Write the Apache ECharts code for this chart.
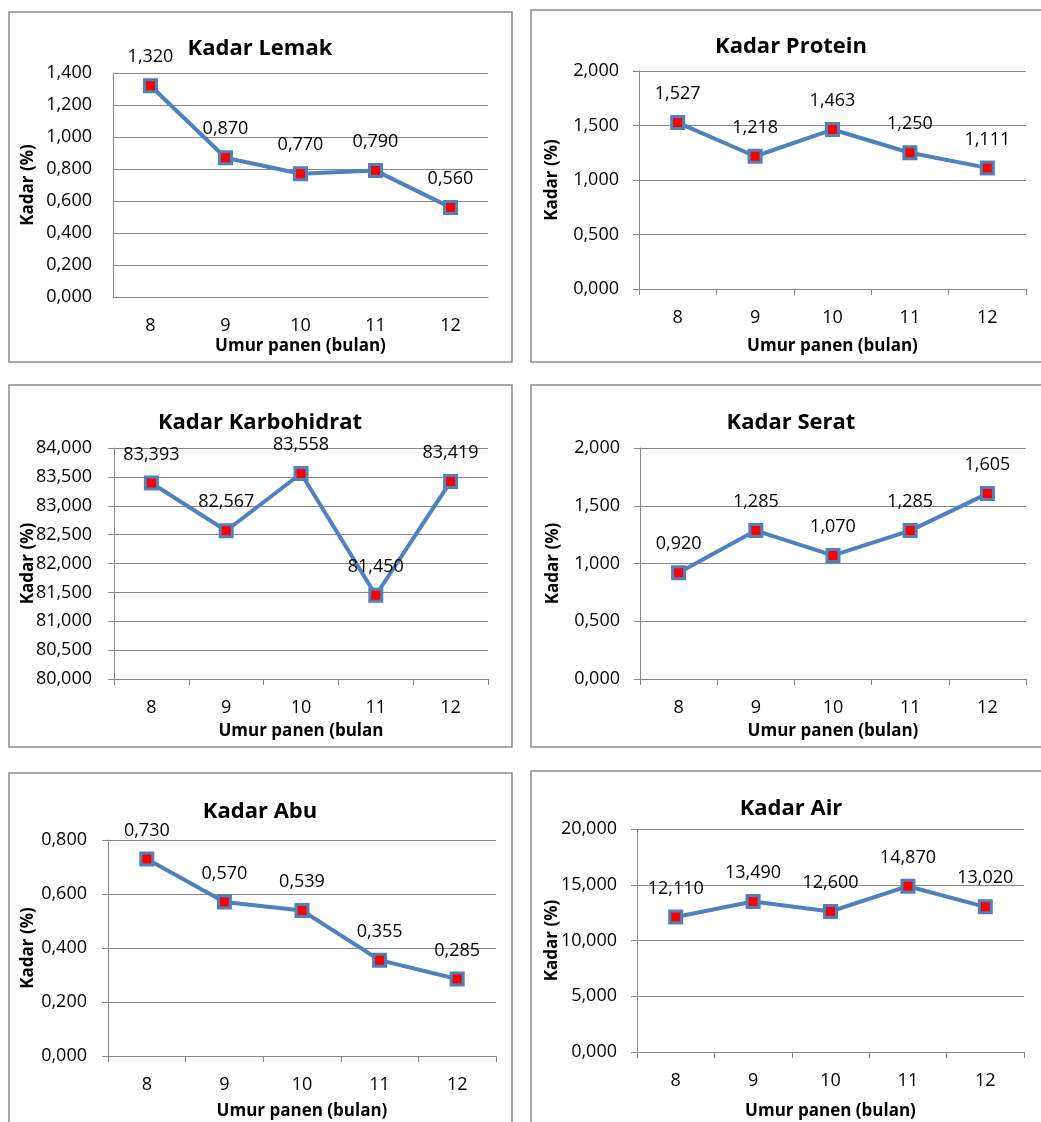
<!DOCTYPE html>
<html>
<head>
<meta charset="utf-8">
<script src="https://cdn.jsdelivr.net/npm/echarts@6/dist/echarts.min.js"></script>
<style>
html,body{margin:0;padding:0;background:#fff;}
#c{width:1041px;height:1122px;}
</style>
</head>
<body>
<div id="c"></div>
<script>
// ---- data ----
const categories = ['8', '9', '10', '11', '12'];
const lemak = [1.320, 0.870, 0.770, 0.790, 0.560];
const protein = [1.527, 1.218, 1.463, 1.250, 1.111];
const karbohidrat = [83.393, 82.567, 83.558, 81.450, 83.419];
const serat = [0.920, 1.285, 1.070, 1.285, 1.605];
const abu = [0.730, 0.570, 0.539, 0.355, 0.285];
const air = [12.110, 13.490, 12.600, 14.870, 13.020];

const titles = ['Kadar Lemak', 'Kadar Protein', 'Kadar Karbohidrat', 'Kadar Serat', 'Kadar Abu', 'Kadar Air'];
const xNames = ['Umur panen (bulan)', 'Umur panen (bulan)', 'Umur panen (bulan', 'Umur panen (bulan)', 'Umur panen (bulan)', 'Umur panen (bulan)'];
const yName = 'Kadar (%)';
const yMin = [0, 0, 80, 0, 0, 0];
const yMax = [1.4, 2, 84, 2, 0.8, 20];
const yStep = [0.2, 0.5, 0.5, 0.5, 0.2, 5];
const seriesData = [lemak, protein, karbohidrat, serat, abu, air];

// ---- layout ----
const grids = [
  {left: 113, top: 73, width: 375, height: 224},
  {left: 639, top: 71, width: 387, height: 218},
  {left: 114, top: 448, width: 374, height: 231},
  {left: 640, top: 448, width: 386, height: 231},
  {left: 108, top: 840, width: 388, height: 216},
  {left: 637, top: 829, width: 387, height: 223}
];
const panels = [
  {x: 9, y: 12, w: 503, h: 350},
  {x: 531, y: 10, w: 520, h: 352},
  {x: 9, y: 385, w: 503, h: 362},
  {x: 531, y: 385, w: 520, h: 362},
  {x: 9, y: 773, w: 503, h: 360},
  {x: 531, y: 771, w: 520, h: 360}
];
const titlePos = [[260, 49], [791, 47], [260, 423], [791, 423], [260, 812], [791, 809]];
const xNameGap = [41, 49, 44, 44, 47, 51];
const yNameGap = [76, 78, 77, 78, 71, 76];
const yLabelMargin = [21, 20, 22, 20, 21, 20];
const showTicks = [false, true, true, true, true, true];

const FONT = '"Open Sans", "Liberation Sans", sans-serif';
const GRAY = '#868686';
const fmt = v => Number(v).toFixed(3).replace('.', ',');

const graphic = [];
panels.forEach(p => {
  graphic.push({type: 'rect', shape: {x: p.x, y: p.y, width: p.w, height: p.h},
    style: {fill: 'none', stroke: '#8c8c8c', lineWidth: 1.5}, silent: true, z: -1});
});
titles.forEach((t, i) => {
  graphic.push({type: 'text', x: titlePos[i][0], y: titlePos[i][1],
    style: {text: t, font: 'bold 22px ' + FONT, fill: '#000', align: 'center', verticalAlign: 'middle'}});
});

const xAxis = [], yAxis = [], series = [];
for (let i = 0; i < 6; i++) {
  xAxis.push({
    type: 'category', gridIndex: i, data: categories, boundaryGap: true,
    name: xNames[i], nameLocation: 'middle', nameGap: xNameGap[i], nameMoveOverlap: false,
    nameTextStyle: {fontFamily: FONT, fontWeight: 'bold', fontSize: 17, color: '#000'},
    axisLine: {show: true, lineStyle: {color: GRAY, width: 1}},
    axisTick: {show: showTicks[i], length: 6, lineStyle: {color: GRAY}},
    axisLabel: {fontFamily: FONT, fontSize: 18, color: '#000', margin: 20},
    splitLine: {show: false}
  });
  yAxis.push({
    type: 'value', gridIndex: i, min: yMin[i], max: yMax[i], interval: yStep[i],
    name: yName, nameLocation: 'middle', nameGap: yNameGap[i], nameRotate: 90, nameMoveOverlap: false,
    nameTextStyle: {fontFamily: FONT, fontWeight: 'bold', fontSize: 17, color: '#000'},
    axisLine: {show: true, lineStyle: {color: GRAY, width: 1}},
    axisTick: {show: showTicks[i], length: 6, lineStyle: {color: GRAY}},
    axisLabel: {fontFamily: FONT, fontSize: 18, color: '#000', margin: yLabelMargin[i], formatter: fmt},
    splitLine: {show: true, lineStyle: {color: GRAY, width: 1}}
  });
  series.push({
    type: 'line', xAxisIndex: i, yAxisIndex: i, data: seriesData[i],
    symbol: 'rect', symbolSize: 12,
    lineStyle: {color: '#4F81BD', width: 4},
    itemStyle: {color: '#FF0000', borderColor: '#4F81BD', borderWidth: 3},
    label: {show: true, position: 'top', distance: 12, fontFamily: FONT, fontSize: 18, color: '#000',
      formatter: p => fmt(p.value)},
    animation: false, z: 3
  });
}

const chart = echarts.init(document.getElementById('c'));
chart.setOption({
  animation: false,
  backgroundColor: '#fff',
  grid: grids.map(g => Object.assign({containLabel: false}, g)),
  xAxis, yAxis, series, graphic
});
</script>
</body>
</html>
